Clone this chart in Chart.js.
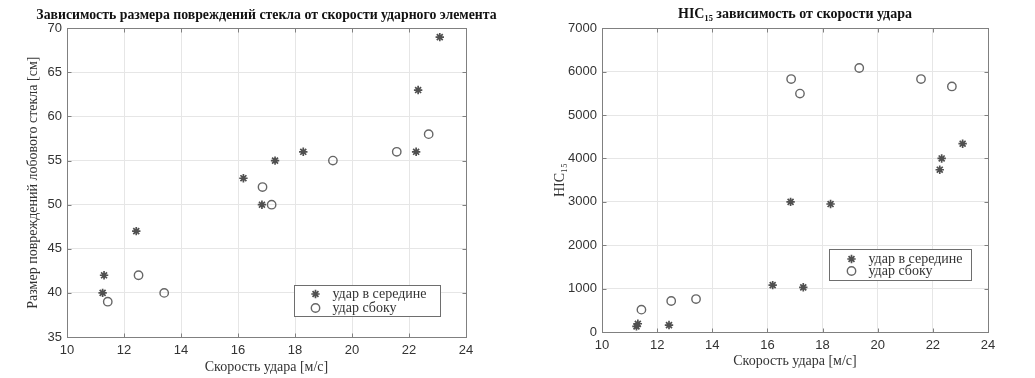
<!DOCTYPE html>
<html>
<head>
<meta charset="utf-8">
<script src="https://cdn.jsdelivr.net/npm/chart.js@4"></script>
<style>
body { margin: 0; background: #fff; }
#left { position: absolute; left: 0; top: 0; width: 517px; height: 378px; }
#right { position: absolute; left: 517px; top: 0; width: 518px; height: 378px; }
</style>
</head>
<body>
<div id="left"><canvas id="sizeChart"></canvas></div>
<div id="right"><canvas id="hicChart"></canvas></div>
<script>
// impact speed, m/s
const speedMiddle = [11.25, 11.3, 12.43, 16.19, 16.84, 17.3, 18.29, 22.25, 22.32, 23.08];
const speedSide = [11.43, 12.51, 13.41, 16.86, 17.18, 19.33, 21.57, 22.69];
// damage size, cm
const sizeMiddle = [40, 42, 47, 53, 50, 55, 56, 56, 63, 69];
const sizeSide = [39, 42, 40, 52, 50, 55, 56, 58];
// HIC15
const hicMiddle = [130, 190, 160, 1080, 3000, 1030, 2950, 3740, 4000, 4340];
const hicSide = [515, 715, 760, 5830, 5495, 6085, 5830, 5660];

const labelMiddle = 'удар в середине';
const labelSide = 'удар сбоку';
const xTicks = [10, 12, 14, 16, 18, 20, 22, 24];

const serif = 'Liberation Serif, Times New Roman, serif';
const sans = 'Liberation Sans, Arial, sans-serif';

function pts(xs, ys) {
  return xs.map((x, i) => ({ x: x, y: ys[i] }));
}

// MATLAB-like title, box, inward ticks and a legend inside the axes
const matlabFrame = {
  id: 'matlabFrame',
  afterDatasetsDraw(chart, args, opts) {
    const { ctx, chartArea: a, scales } = chart;
    const L = Math.round(a.left) + 0.5, R = Math.round(a.right) + 0.5;
    const T = Math.round(a.top) + 0.5, B = Math.round(a.bottom) + 0.5;
    ctx.save();

    // title, centred over the axes and allowed to run past them
    ctx.fillStyle = '#111';
    ctx.font = 'bold ' + opts.titleSize + 'px ' + serif;
    ctx.textAlign = 'center';
    ctx.textBaseline = 'middle';
    ctx.fillText(opts.title, (a.left + a.right) / 2, opts.titleY);

    ctx.strokeStyle = '#808080';
    ctx.lineWidth = 1;
    ctx.strokeRect(L, T, R - L, B - T);
    ctx.beginPath();
    scales.x.ticks.forEach(t => {
      const px = Math.round(scales.x.getPixelForValue(t.value)) + 0.5;
      ctx.moveTo(px, B); ctx.lineTo(px, B - 4);
      ctx.moveTo(px, T); ctx.lineTo(px, T + 4);
    });
    scales.y.ticks.forEach(t => {
      const py = Math.round(scales.y.getPixelForValue(t.value)) + 0.5;
      ctx.moveTo(L, py); ctx.lineTo(L + 4, py);
      ctx.moveTo(R, py); ctx.lineTo(R - 4, py);
    });
    ctx.stroke();

    // legend box
    const bx = Math.round(a.right - opts.right - opts.width) + 0.5;
    const by = Math.round(a.bottom - opts.bottom - opts.height) + 0.5;
    ctx.fillStyle = '#fff';
    ctx.fillRect(bx, by, opts.width, opts.height);
    ctx.strokeStyle = '#6e6e6e';
    ctx.strokeRect(bx, by, opts.width, opts.height);
    ctx.font = '14px ' + serif;
    ctx.textAlign = 'left';
    ctx.textBaseline = 'middle';
    chart.data.datasets.forEach((ds, i) => {
      const cy = by + opts.rows[i];
      ctx.strokeStyle = ds.borderColor;
      ctx.fillStyle = 'rgba(0,0,0,0)';
      ctx.lineWidth = ds.borderWidth;
      Chart.helpers.drawPoint(ctx, { pointStyle: ds.pointStyle, radius: ds.pointRadius, borderWidth: ds.borderWidth, rotation: 0 }, bx + opts.marker, cy);
      ctx.fillStyle = '#333';
      ctx.fillText(ds.label, bx + opts.text, cy);
    });
    ctx.restore();
  }
};

function makeChart(id, cfg) {
  return new Chart(document.getElementById(id), {
    type: 'scatter',
    data: {
      datasets: [
        { label: labelMiddle, data: cfg.middle, pointStyle: 'star', pointRadius: 4.2, borderWidth: 1.7,
          borderColor: '#505050', backgroundColor: '#505050' },
        { label: labelSide, data: cfg.side, pointStyle: 'circle', pointRadius: 4.2, borderWidth: 1.4,
          borderColor: '#666', backgroundColor: 'rgba(0,0,0,0)' }
      ]
    },
    options: {
      responsive: true,
      maintainAspectRatio: false,
      animation: false,
      events: [],
      layout: { padding: { left: 0, right: cfg.padRight, top: 28.3, bottom: 0 } },
      plugins: {
        legend: { display: false },
        tooltip: { enabled: false },
        title: { display: false },
        matlabFrame: cfg.frame
      },
      scales: {
        x: {
          type: 'linear', min: 10, max: 24,
          afterBuildTicks: s => { s.ticks = xTicks.map(v => ({ value: v })); },
          afterFit: s => { s.height = cfg.xHeight; },
          grid: { color: '#e6e6e6', drawTicks: false },
          border: { display: false },
          ticks: { color: '#333', padding: 6, font: { family: sans, size: 13 }, callback: v => String(v) },
          title: { display: true, text: 'Скорость удара [м/с]', color: '#333',
            font: { family: serif, size: 14 }, padding: { top: 0, bottom: cfg.xTitlePad } }
        },
        y: {
          type: 'linear', min: cfg.yMin, max: cfg.yMax,
          afterBuildTicks: s => { s.ticks = cfg.yTicks.map(v => ({ value: v })); },
          afterFit: s => { s.width = cfg.yWidth; },
          grid: { color: '#e6e6e6', drawTicks: false },
          border: { display: false },
          ticks: { color: '#333', padding: 5, font: { family: sans, size: 13 }, callback: v => String(v) },
          title: { display: true, text: cfg.yTitle, color: '#333',
            font: { family: serif, size: 14 }, padding: { top: cfg.yTitlePad, bottom: 0 } }
        }
      }
    },
    plugins: [matlabFrame]
  });
}

makeChart('sizeChart', {
  yTitle: 'Размер повреждений лобового стекла [см]',
  middle: pts(speedMiddle, sizeMiddle),
  side: pts(speedSide, sizeSide),
  yMin: 35, yMax: 70, yTicks: [35, 40, 45, 50, 55, 60, 65, 70],
  padRight: 51, yWidth: 67, xHeight: 41, xTitlePad: 2.6, yTitlePad: 24.6,
  frame: {
    title: 'Зависимость размера повреждений стекла от скорости ударного элемента', titleSize: 13.8, titleY: 15,
    right: 26, bottom: 21, width: 146, height: 31, marker: 21, text: 38, rows: [8.5, 22.5]
  }
});

makeChart('hicChart', {
  yTitle: 'HIC₁₅',
  middle: pts(speedMiddle, hicMiddle),
  side: pts(speedSide, hicSide),
  yMin: 0, yMax: 7000, yTicks: [0, 1000, 2000, 3000, 4000, 5000, 6000, 7000],
  padRight: 47, yWidth: 85, xHeight: 46, xTitlePad: 8.6, yTitlePad: 34.6,
  frame: {
    title: 'HIC₁₅ зависимость от скорости удара', titleSize: 14, titleY: 14,
    right: 17, bottom: 52, width: 142, height: 31, marker: 22, text: 39, rows: [9.5, 21.5]
  }
});
</script>
</body>
</html>
